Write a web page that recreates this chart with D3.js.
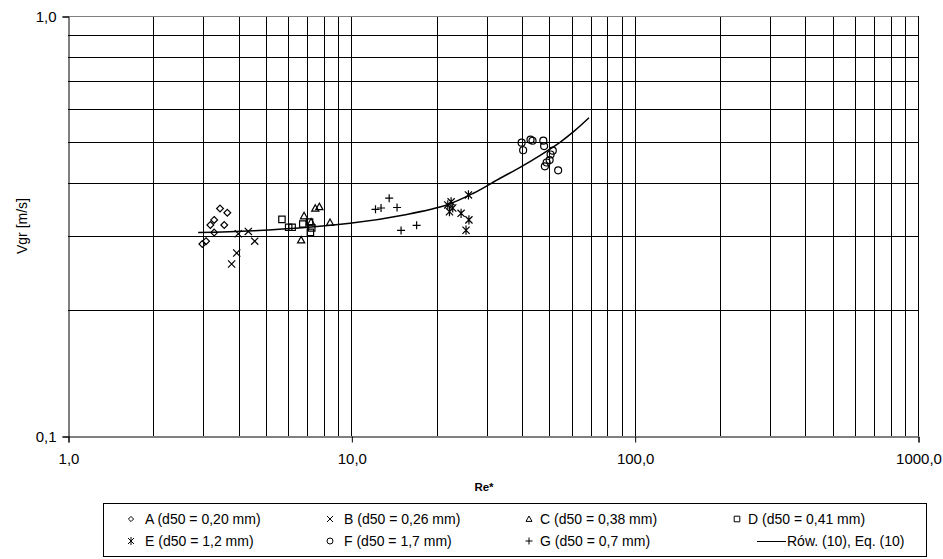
<!DOCTYPE html>
<html><head><meta charset="utf-8">
<script src="https://cdn.jsdelivr.net/npm/d3@7"></script>
<style>body{margin:0;background:#fff}svg{display:block;font-family:"Liberation Sans",Arial,sans-serif}</style>
</head><body><svg id="c" width="943" height="559"></svg>
<script>
// Data: [Re*, Vgr]
const seriesA = [[3.44,0.348],[3.65,0.340],[3.28,0.327],[3.18,0.318],[3.56,0.318],[3.28,0.305],[3.07,0.291],[2.98,0.2865]];
const seriesB = [[3.99,0.303],[4.33,0.307],[4.56,0.291],[3.94,0.2727],[3.78,0.2567]];
const seriesC = [[6.65,0.2929],[6.81,0.3342],[7.46,0.3484],[7.71,0.3515],[8.41,0.3223],[7.21,0.3232]];
const seriesD = [[5.69,0.328],[6.01,0.314],[6.18,0.314],[6.74,0.3197],[7.12,0.3232],[7.17,0.3055],[7.25,0.313]];
const seriesE = [[25.9,0.375],[22.5,0.361],[21.9,0.355],[22.8,0.349],[22.2,0.342],[24.4,0.339],[26.0,0.327],[25.4,0.309]];
const seriesF = [[39.9,0.4994],[40.4,0.479],[42.9,0.5077],[43.6,0.5047],[47.6,0.5048],[47.9,0.490],[51.4,0.4778],[50.5,0.468],[50.1,0.454],[48.9,0.4479],[48.2,0.4386],[53.7,0.4291]];
const seriesG = [[13.6,0.3684],[12.17,0.3465],[12.73,0.349],[14.5,0.350],[14.98,0.3086],[17.0,0.3174]];
const curveEq10 = [[2.88,0.305],[4.51,0.308],[9.89,0.321],[15.7,0.337],[21.7,0.3548],[26.96,0.3784],[33.5,0.4108],[39.4,0.4362],[46.4,0.4660],[54.5,0.5004],[61.6,0.5342],[69.0,0.5724]];
const xTickLabels = ["1,0","10,0","100,0","1000,0"];
const yTickLabels = ["0,1","1,0"];
const legendLabels = ["A (d50 = 0,20 mm)","B (d50 = 0,26 mm)","C (d50 = 0,38 mm)","D (d50 = 0,41 mm)",
                      "E (d50 = 1,2 mm)","F (d50 = 1,7 mm)","G (d50 = 0,7 mm)","Rów. (10), Eq. (10)"];

const svg = d3.select("#c");
const L=68, R=918, T=16, B=436;
const x = d3.scaleLog().domain([1,1000]).range([L,R]);
const y = d3.scaleLog().domain([0.1,1]).range([B,T]);
const px = v => Math.round(x(v))+0.5;
const py = v => Math.round(y(v))+0.5;

// grid
const g = svg.append("g");
const xv = []; for (let d=1; d<1000; d*=10) for (let k=1;k<10;k++) xv.push(d*k); xv.push(1000);
const yv = []; for (let k=2;k<=10;k++) yv.push(k/10);
g.selectAll("line.v").data(xv.filter(v=>v>1)).join("line")
  .attr("x1",d=>px(d)).attr("x2",d=>px(d)).attr("y1",T).attr("y2",B).attr("stroke","#000").attr("stroke-width",1);
g.selectAll("line.h").data(yv).join("line")
  .attr("x1",L).attr("x2",R).attr("y1",d=>py(d)).attr("y2",d=>py(d))
  .attr("stroke",d=>d===1?"#808080":"#000").attr("stroke-width",1);

// axes
const xAxis = d3.axisBottom(x).tickValues([1,10,100,1000]).tickFormat((d,i)=>xTickLabels[i]).tickSize(6).tickPadding(11);
const yAxis = d3.axisLeft(y).tickValues([0.1,1]).tickFormat((d,i)=>yTickLabels[i]).tickSize(6).tickPadding(6);
const gx = svg.append("g").attr("transform",`translate(0.5,${Math.round(y(0.1))+0.5})`).call(xAxis);
const gy = svg.append("g").attr("transform",`translate(${L+0.5},0.5)`).call(yAxis);
[gx,gy].forEach(a=>{
  a.select(".domain").attr("stroke","#000");
  a.selectAll(".tick line").attr("stroke","#000");
  a.selectAll(".tick text").attr("font-size",15).attr("fill","#000").attr("font-family","Liberation Sans, Arial, sans-serif");
});
gy.selectAll(".tick text").attr("dy","0.35em");

svg.append("text").attr("x",484).attr("y",491).attr("text-anchor","middle")
  .attr("font-size",11.5).attr("font-weight","bold").text("Re*");
svg.append("text").attr("transform","translate(27,226) rotate(-90)").attr("text-anchor","middle")
  .attr("font-size",14).text("Vgr [m/s]");

// marker shapes
const mk = {
  A: s=>`M0,${-s}L${s},0L0,${s}L${-s},0Z`,
  B: s=>`M${-s},${-s}L${s},${s}M${-s},${s}L${s},${-s}`,
  C: s=>`M0,${-s}L${s},${s*0.8}L${-s},${s*0.8}Z`,
  D: s=>`M${-s},${-s}H${s}V${s}H${-s}Z`,
  E: s=>`M${-s},${-s}L${s},${s}M${-s},${s}L${s},${-s}M0,${-s-1}V${s+1}`,
  F: s=>`M${s},0A${s},${s} 0 1,1 ${-s},0A${s},${s} 0 1,1 ${s},0Z`,
  G: s=>`M${-s},0H${s}M0,${-s}V${s}`
};
const sizes = {A:3.4,B:3.6,C:3.6,D:3.2,E:3.6,F:3.5,G:4};
const sets = [["A",seriesA],["B",seriesB],["C",seriesC],["D",seriesD],["E",seriesE],["F",seriesF],["G",seriesG]];
sets.forEach(([k,data])=>{
  svg.append("g").selectAll("path").data(data).join("path")
    .attr("transform",d=>`translate(${x(d[0])},${y(d[1])})`)
    .attr("d",mk[k](sizes[k])).attr("fill","none").attr("stroke","#000").attr("stroke-width",1.2);
});

// curve
svg.append("path").datum(curveEq10)
  .attr("d",d3.line().x(d=>x(d[0])).y(d=>y(d[1])).curve(d3.curveCatmullRom))
  .attr("fill","none").attr("stroke","#000").attr("stroke-width",1.5);

// legend
const lg = svg.append("g");
lg.append("rect").attr("x",103.5).attr("y",503.5).attr("width",823).attr("height",53)
  .attr("fill","#fff").attr("stroke","#000");
const colX = [131,330,529,737];
const keys = ["A","B","C","D","E","F","G"];
legendLabels.forEach((t,i)=>{
  const r = Math.floor(i/4), c = i%4;
  const cy = r===0?519:541;
  if (i<7) {
    const ms = {A:2.6,B:3,C:3,D:2.8,E:3,F:3,G:3.5}[keys[i]];
    lg.append("path").attr("transform",`translate(${colX[c]},${cy})`).attr("d",mk[keys[i]](ms))
      .attr("fill","none").attr("stroke","#000");
    lg.append("text").attr("x",colX[c]+(c>=2?11:14)).attr("y",cy).attr("dy","0.35em").attr("font-size",14).text(t);
  } else {
    lg.append("line").attr("x1",757).attr("x2",786).attr("y1",cy+0.5).attr("y2",cy+0.5).attr("stroke","#000");
    lg.append("text").attr("x",787).attr("y",cy).attr("dy","0.35em").attr("font-size",14).text(t);
  }
});
</script></body></html>
